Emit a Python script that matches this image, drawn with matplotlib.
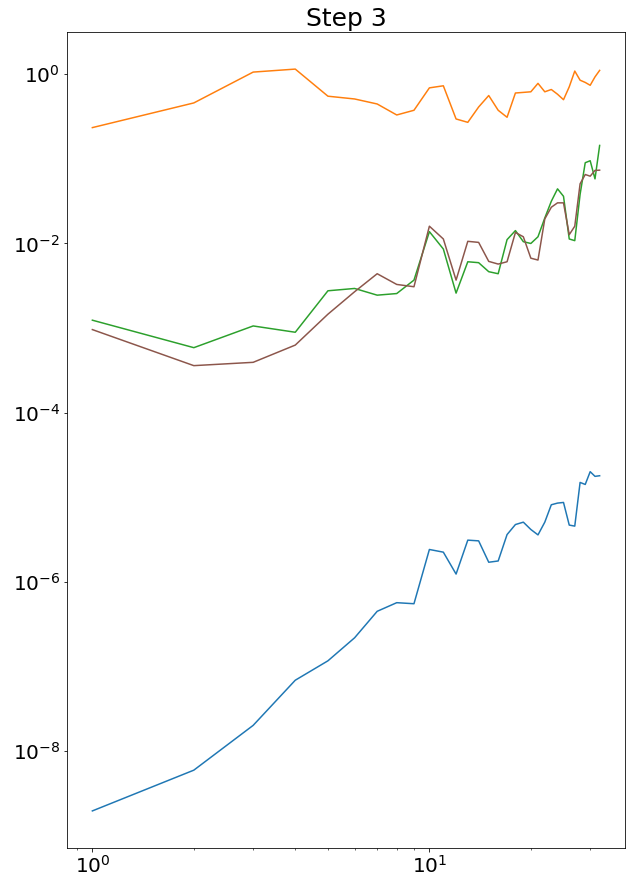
import matplotlib
matplotlib.use("Agg")
import matplotlib.pyplot as plt

# step index on the x axis
steps = list(range(1, 33))

blue_vals = [1.97e-9, 5.97e-9, 2.02e-8, 6.9e-8, 1.17e-7, 2.19e-7, 4.5e-7, 5.69e-7,
             5.53e-7, 2.42e-6, 2.25e-6, 1.24e-6, 3.12e-6, 3.06e-6, 1.71e-6, 1.77e-6,
             3.63e-6, 4.77e-6, 5.09e-6, 4.17e-6, 3.6e-6, 5.09e-6, 8.17e-6, 8.55e-6,
             8.7e-6, 4.7e-6, 4.57e-6, 1.50e-5, 1.42e-5, 2.01e-5, 1.77e-5, 1.80e-5]
orange_vals = [0.234, 0.458, 1.06, 1.15, 0.55, 0.51, 0.445, 0.33, 0.375, 0.69, 0.73,
               0.296, 0.27, 0.41, 0.56, 0.375, 0.31, 0.60, 0.61, 0.62, 0.78, 0.62,
               0.66, 0.58, 0.50, 0.71, 1.09, 0.85, 0.80, 0.74, 0.93, 1.11]
green_vals = [1.24e-3, 5.87e-4, 1.06e-3, 8.93e-4, 2.76e-3, 2.94e-3, 2.45e-3, 2.56e-3,
              3.69e-3, 1.38e-2, 8.6e-3, 2.59e-3, 6.08e-3, 5.93e-3, 4.64e-3, 4.39e-3,
              1.11e-2, 1.42e-2, 1.05e-2, 1.0e-2, 1.2e-2, 2.0e-2, 3.15e-2, 4.42e-2,
              3.61e-2, 1.13e-2, 1.08e-2, 3.8e-2, 9.0e-2, 9.5e-2, 5.8e-2, 0.144]
brown_vals = [9.6e-4, 3.6e-4, 3.94e-4, 6.3e-4, 1.46e-3, 2.69e-3, 4.39e-3, 3.28e-3,
              3.08e-3, 1.6e-2, 1.13e-2, 3.69e-3, 1.06e-2, 1.03e-2, 6.14e-3, 5.71e-3,
              6.08e-3, 1.35e-2, 1.2e-2, 6.7e-3, 6.37e-3, 1.95e-2, 2.68e-2, 3.02e-2,
              3.02e-2, 1.27e-2, 1.6e-2, 5.07e-2, 6.53e-2, 6.24e-2, 7.3e-2, 7.35e-2]

DPI = 72
fig, ax = plt.subplots(figsize=(631 / DPI, 887 / DPI), dpi=DPI)
fig.subplots_adjust(left=67 / 631, right=625 / 631, top=1 - 32 / 887, bottom=1 - 848 / 887)

ax.plot(steps, blue_vals, color="tab:blue")
ax.plot(steps, orange_vals, color="tab:orange")
ax.plot(steps, green_vals, color="tab:green")
ax.plot(steps, brown_vals, color="tab:brown")

ax.set_xscale("log")
ax.set_yscale("log")
ax.tick_params(labelsize=20)
ax.set_title("Step 3", fontsize=25)

fig.savefig("out.png", dpi=DPI)
plt.close(fig)
